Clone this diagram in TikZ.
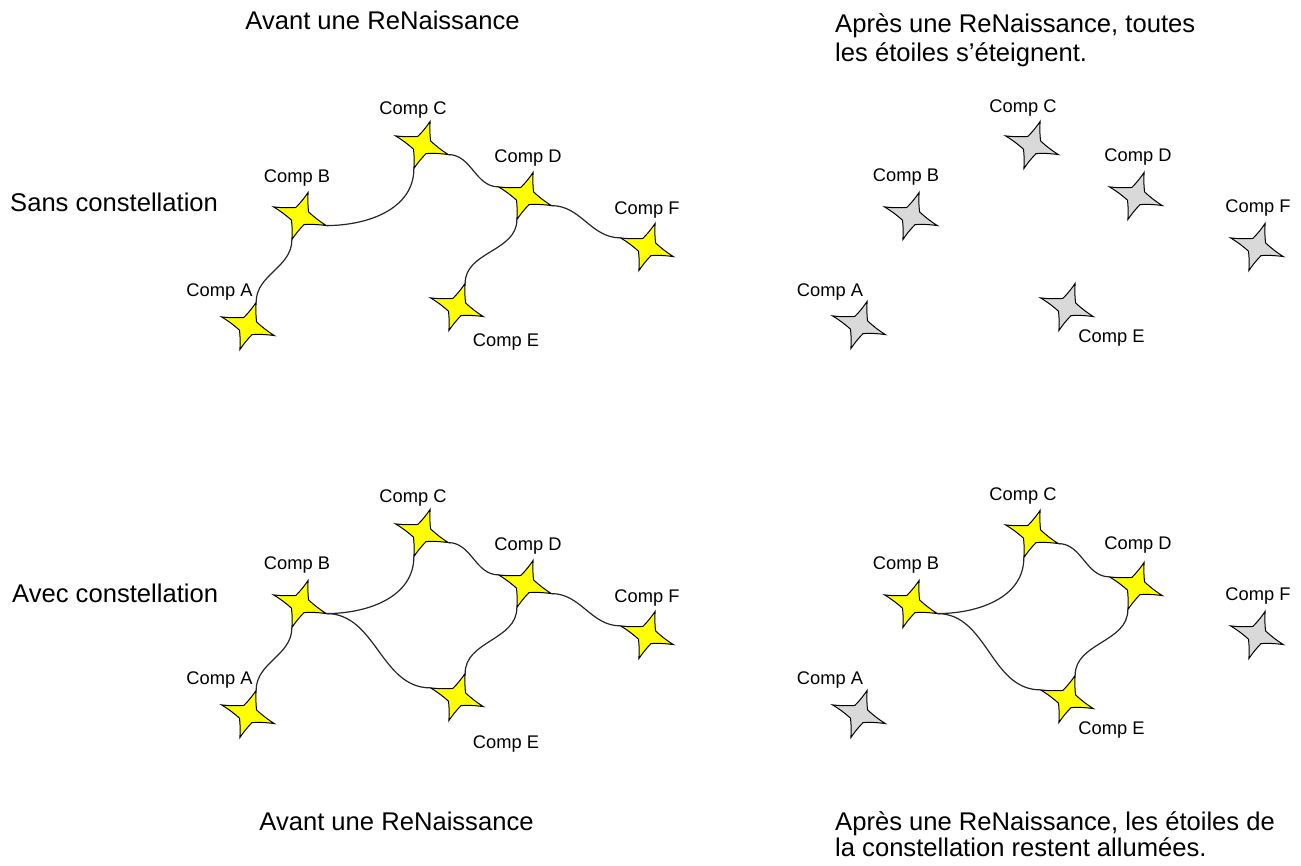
\documentclass[tikz,border=0pt]{standalone}
\usepackage{fontspec}
\setmainfont{Liberation Sans}

\definecolor{lit}{RGB}{255,255,0}
\definecolor{dim}{RGB}{217,217,217}

\tikzset{
  edge/.style={bend right=5},
  % four-pointed star with slightly concave sides; tips named -n, -e, -s, -w
  fourstar/.pic={
    \coordinate (-n) at (71:25);
    \coordinate (-e) at (-20:28);
    \coordinate (-s) at (-109:25);
    \coordinate (-w) at (161:28);
    \path[draw=black, line width=1pt, fill=#1, line join=miter]
      (-n) to[edge] (25.5:9.5)   to[edge] (-e)
           to[edge] (-64.5:9.5)  to[edge] (-s)
           to[edge] (-154:9.5)   to[edge] (-w)
           to[edge] (116:9.5)    to[edge] (-n) -- cycle;
  },
  link/.style={draw=black!85, line width=1.2pt},
  head/.style={font=\fontsize{25.6}{30}\selectfont, inner sep=0pt},
  comp/.style={font=\fontsize{18.3}{22}\selectfont, inner sep=0pt, anchor=base},
}

\begin{document}
\begin{tikzpicture}[x=1pt, y=1pt]
\useasboundingbox (0,0) rectangle (1301,865);

% ---------- headings ----------
\node[head, anchor=base] (h1) at (382.5,835) {Avant une ReNaissance};
\node[head, anchor=base west] (h2a) at (835,832) {Après une ReNaissance, toutes};
\node[head, anchor=base west] (h2b) at (835,803) {les étoiles s’éteignent.};
\node[head, anchor=base west] (r1) at (10,653) {Sans constellation};
\node[head, anchor=base west] (r2) at (12,262) {Avec constellation};
\node[head, anchor=base] (h3) at (396.5,35) {Avant une ReNaissance};
\node[head, anchor=base west] (h4a) at (835,35) {Après une ReNaissance, les étoiles de};
\node[head, anchor=base west] (h4b) at (835,9) {la constellation restent allumées.};

% ---------- top left: without constellation, before ----------
\pic (p1A) at (248,539) {fourstar=lit};
\pic (p1B) at (300,649) {fourstar=lit};
\pic (p1C) at (422,720) {fourstar=lit};
\pic (p1D) at (525,669) {fourstar=lit};
\pic (p1E) at (457,558) {fourstar=lit};
\pic (p1F) at (647,618) {fourstar=lit};
\node[comp] (l1A) at (219.5,568) {Comp A};
\node[comp] (l1B) at (297,682) {Comp B};
\node[comp] (l1C) at (413,750) {Comp C};
\node[comp] (l1D) at (528,702) {Comp D};
\node[comp] (l1E) at (506,518) {Comp E};
\node[comp] (l1F) at (647,650) {Comp F};
\draw[link] (p1A-n) to[out=90, in=-90] (p1B-s);
\draw[link] (p1B-e) to[out=0, in=-90] (p1C-s);
\draw[link] (p1C-e) to[out=0, in=180] (p1D-w);
\draw[link] (p1D-e) to[out=0, in=180] (p1F-w);
\draw[link] (p1D-s) to[out=-90, in=90] (p1E-n);

% ---------- top right: without constellation, after ----------
\pic (p2A) at (859,540) {fourstar=dim};
\pic (p2B) at (911,649) {fourstar=dim};
\pic (p2C) at (1032,720) {fourstar=dim};
\pic (p2D) at (1136,669) {fourstar=dim};
\pic (p2E) at (1067,558) {fourstar=dim};
\pic (p2F) at (1257,618) {fourstar=dim};
\node[comp] (l2A) at (830,568) {Comp A};
\node[comp] (l2B) at (906,683) {Comp B};
\node[comp] (l2C) at (1023,752) {Comp C};
\node[comp] (l2D) at (1138,703) {Comp D};
\node[comp] (l2E) at (1111.5,522) {Comp E};
\node[comp] (l2F) at (1258,652) {Comp F};

% ---------- bottom left: with constellation, before ----------
\pic (p3A) at (248,151) {fourstar=lit};
\pic (p3B) at (300,261) {fourstar=lit};
\pic (p3C) at (422,332) {fourstar=lit};
\pic (p3D) at (525,281) {fourstar=lit};
\pic (p3E) at (457,168) {fourstar=lit};
\pic (p3F) at (647,230) {fourstar=lit};
\node[comp] (l3A) at (219.5,180) {Comp A};
\node[comp] (l3B) at (297,295) {Comp B};
\node[comp] (l3C) at (413,362) {Comp C};
\node[comp] (l3D) at (528,314) {Comp D};
\node[comp] (l3E) at (506,116) {Comp E};
\node[comp] (l3F) at (647,262) {Comp F};
\draw[link] (p3A-n) to[out=90, in=-90] (p3B-s);
\draw[link] (p3B-e) to[out=0, in=-90] (p3C-s);
\draw[link] (p3C-e) to[out=0, in=180] (p3D-w);
\draw[link] (p3D-e) to[out=0, in=180] (p3F-w);
\draw[link] (p3D-s) to[out=-90, in=90] (p3E-n);
\draw[link] (p3B-e) to[out=0, in=180] (p3E-w);

% ---------- bottom right: with constellation, after ----------
\pic (p4A) at (859,151) {fourstar=dim};
\pic (p4B) at (911,261) {fourstar=lit};
\pic (p4C) at (1032,331) {fourstar=lit};
\pic (p4D) at (1136,279) {fourstar=lit};
\pic (p4E) at (1067,166) {fourstar=lit};
\pic (p4F) at (1257,230) {fourstar=dim};
\node[comp] (l4A) at (830,180) {Comp A};
\node[comp] (l4B) at (906,295) {Comp B};
\node[comp] (l4C) at (1023,364) {Comp C};
\node[comp] (l4D) at (1138,315) {Comp D};
\node[comp] (l4E) at (1111.5,130) {Comp E};
\node[comp] (l4F) at (1258,264) {Comp F};
\draw[link] (p4B-e) to[out=0, in=-90] (p4C-s);
\draw[link] (p4C-e) to[out=0, in=180] (p4D-w);
\draw[link] (p4B-e) to[out=0, in=180] (p4E-w);
\draw[link] (p4D-s) to[out=-90, in=90] (p4E-n);
\end{tikzpicture}
\end{document}
